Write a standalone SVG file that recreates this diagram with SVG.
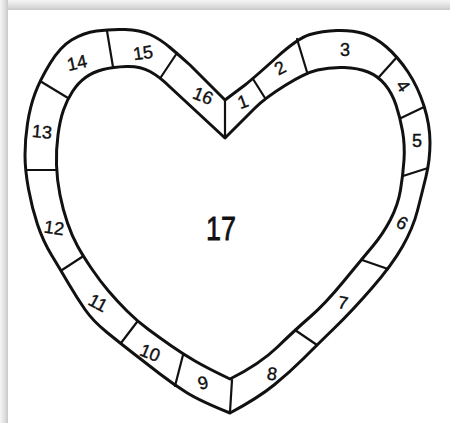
<svg xmlns="http://www.w3.org/2000/svg" width="450" height="423" viewBox="0 0 450 423">
<defs>
<linearGradient id="shTop" x1="0" y1="0" x2="0" y2="1">
<stop offset="0" stop-color="#f6f6f6"/><stop offset="0.7" stop-color="#dadada"/><stop offset="1" stop-color="#c8c8c8"/>
</linearGradient>
<linearGradient id="shLeft" x1="0" y1="0" x2="1" y2="0">
<stop offset="0" stop-color="#f6f6f6"/><stop offset="0.7" stop-color="#dadada"/><stop offset="1" stop-color="#c8c8c8"/>
</linearGradient>
<style>
.edge{fill:none;stroke:#111;stroke-width:3;stroke-linejoin:round;stroke-linecap:round}
.div{fill:none;stroke:#111;stroke-width:2.2;stroke-linecap:round}
.lbl{font-family:"Liberation Sans",Arial,sans-serif;font-size:18px;fill:#111;stroke:#111;stroke-width:0.4;text-anchor:middle;dominant-baseline:central}
.big{font-size:34px;stroke-width:0.8}
</style>
</defs>
<rect x="0" y="0" width="450" height="423" fill="#ffffff"/>
<rect x="0" y="0" width="450" height="10" fill="url(#shTop)"/>
<rect x="0" y="0" width="8" height="423" fill="url(#shLeft)"/>
<rect x="8" y="10" width="442" height="413" fill="#ffffff"/>

<g id="heart-outline">
<path class="edge" d="M225,100 L245,85 Q255,77 276.5,57.5 Q298,38 310,34.5 Q322,31 337,30.5 Q352,30 363.5,33.5 Q375,37 386.5,47 Q398,57 408,72 Q418,87 424,106 Q430,125 430,142.5 Q430,160 426,176.5 Q422,193 417.5,210.5 Q413,228 402.5,246.5 Q392,265 372,288 Q352,311 335,327.5 Q318,344 304,358 Q290,372 274,385 Q258,398 230,413 Q200,401 186.5,392.5 Q173,384 160,374 Q147,364 133.5,353.5 Q120,343 106.5,332 Q93,321 85,309.5 Q77,298 68.5,283.5 Q60,269 51.5,255 Q43,241 37.5,224.5 Q32,208 28.5,189 Q25,170 25,155 Q25,140 27.5,123.5 Q30,107 35,93.5 Q40,80 50,63.5 Q60,47 71.5,40 Q83,33 96.5,31 Q110,29 125,29.5 Q140,30 150,34.5 Q160,39 170,47.5 Q180,56 190,65 L225,100 Z"/>
<path class="edge" d="M225,138 L255,108 Q265,98 285,85.5 Q305,73 317.5,70 Q330,67 344,67.5 Q358,68 368,72 Q378,76 385,84.5 Q392,93 396,105 Q400,117 402.5,131 Q405,145 404,160 Q403,175 400.5,190 Q398,205 390.5,219.5 Q383,234 372.5,246.5 Q362,259 343.5,281.5 Q325,304 310,317 Q295,330 277.5,347 Q260,364 230,379 Q207,368 195,361 Q183,354 171.5,346 Q160,338 148.5,329.5 Q137,321 127,311 Q117,301 108.5,291 Q100,281 91.5,268.5 Q83,256 77.5,246 Q72,236 67.5,223 Q63,210 60,195 Q57,180 56.5,165 Q56,150 58,135 Q60,120 63.5,110 Q67,100 72.5,91.5 Q78,83 85.5,77.5 Q93,72 103,69.5 Q113,67 126.5,66.5 Q140,66 150,71.5 Q160,77 170,87 L225,138 Z"/>
</g>

<g id="connectors">
<path class="div" d="M225,100 L225,138"/>
<path class="div" d="M253,79 L265,98"/>
<path class="div" d="M297,39 L307,72"/>
<path class="div" d="M397,57 L379,77"/>
<path class="div" d="M424,107 L401,118"/>
<path class="div" d="M428,168 L403,176"/>
<path class="div" d="M362,260 L388,269"/>
<path class="div" d="M295,330 L317,345"/>
<path class="div" d="M232,380 L230,412"/>
<path class="div" d="M175,386 L183,355"/>
<path class="div" d="M121,343 L137,322"/>
<path class="div" d="M62,270 L82,257"/>
<path class="div" d="M26,170 L56,170"/>
<path class="div" d="M40,81 L68,98"/>
<path class="div" d="M107,31 L113,67"/>
<path class="div" d="M177,53 L161,77"/>
</g>

<g id="seg-1"><text class="lbl" transform="translate(243,102) rotate(-20)">1</text></g>
<g id="seg-2"><text class="lbl" transform="translate(280,68) rotate(-28)">2</text></g>
<g id="seg-3"><text class="lbl" transform="translate(345,50)">3</text></g>
<g id="seg-4"><text class="lbl" transform="translate(403,86) rotate(55)">4</text></g>
<g id="seg-5"><text class="lbl" transform="translate(417,141)">5</text></g>
<g id="seg-6"><text class="lbl" transform="translate(402,223) rotate(30)">6</text></g>
<g id="seg-7"><text class="lbl" transform="translate(343,303) rotate(10)">7</text></g>
<g id="seg-8"><text class="lbl" transform="translate(272,374) rotate(8)">8</text></g>
<g id="seg-9"><text class="lbl" transform="translate(203,383) rotate(-15)">9</text></g>
<g id="seg-10"><text class="lbl" transform="translate(150,353) rotate(22)">10</text></g>
<g id="seg-11"><text class="lbl" transform="translate(98,303) rotate(28)">11</text></g>
<g id="seg-12"><text class="lbl" transform="translate(54,228) rotate(8)">12</text></g>
<g id="seg-13"><text class="lbl" transform="translate(42,132) rotate(5)">13</text></g>
<g id="seg-14"><text class="lbl" transform="translate(77,63) rotate(-12)">14</text></g>
<g id="seg-15"><text class="lbl" transform="translate(143,53) rotate(-8)">15</text></g>
<g id="seg-16"><text class="lbl" transform="translate(203,96) rotate(22)">16</text></g>
<g id="seg-17"><text class="lbl big" transform="translate(221,228)" textLength="30" lengthAdjust="spacingAndGlyphs">17</text></g>
</svg>
